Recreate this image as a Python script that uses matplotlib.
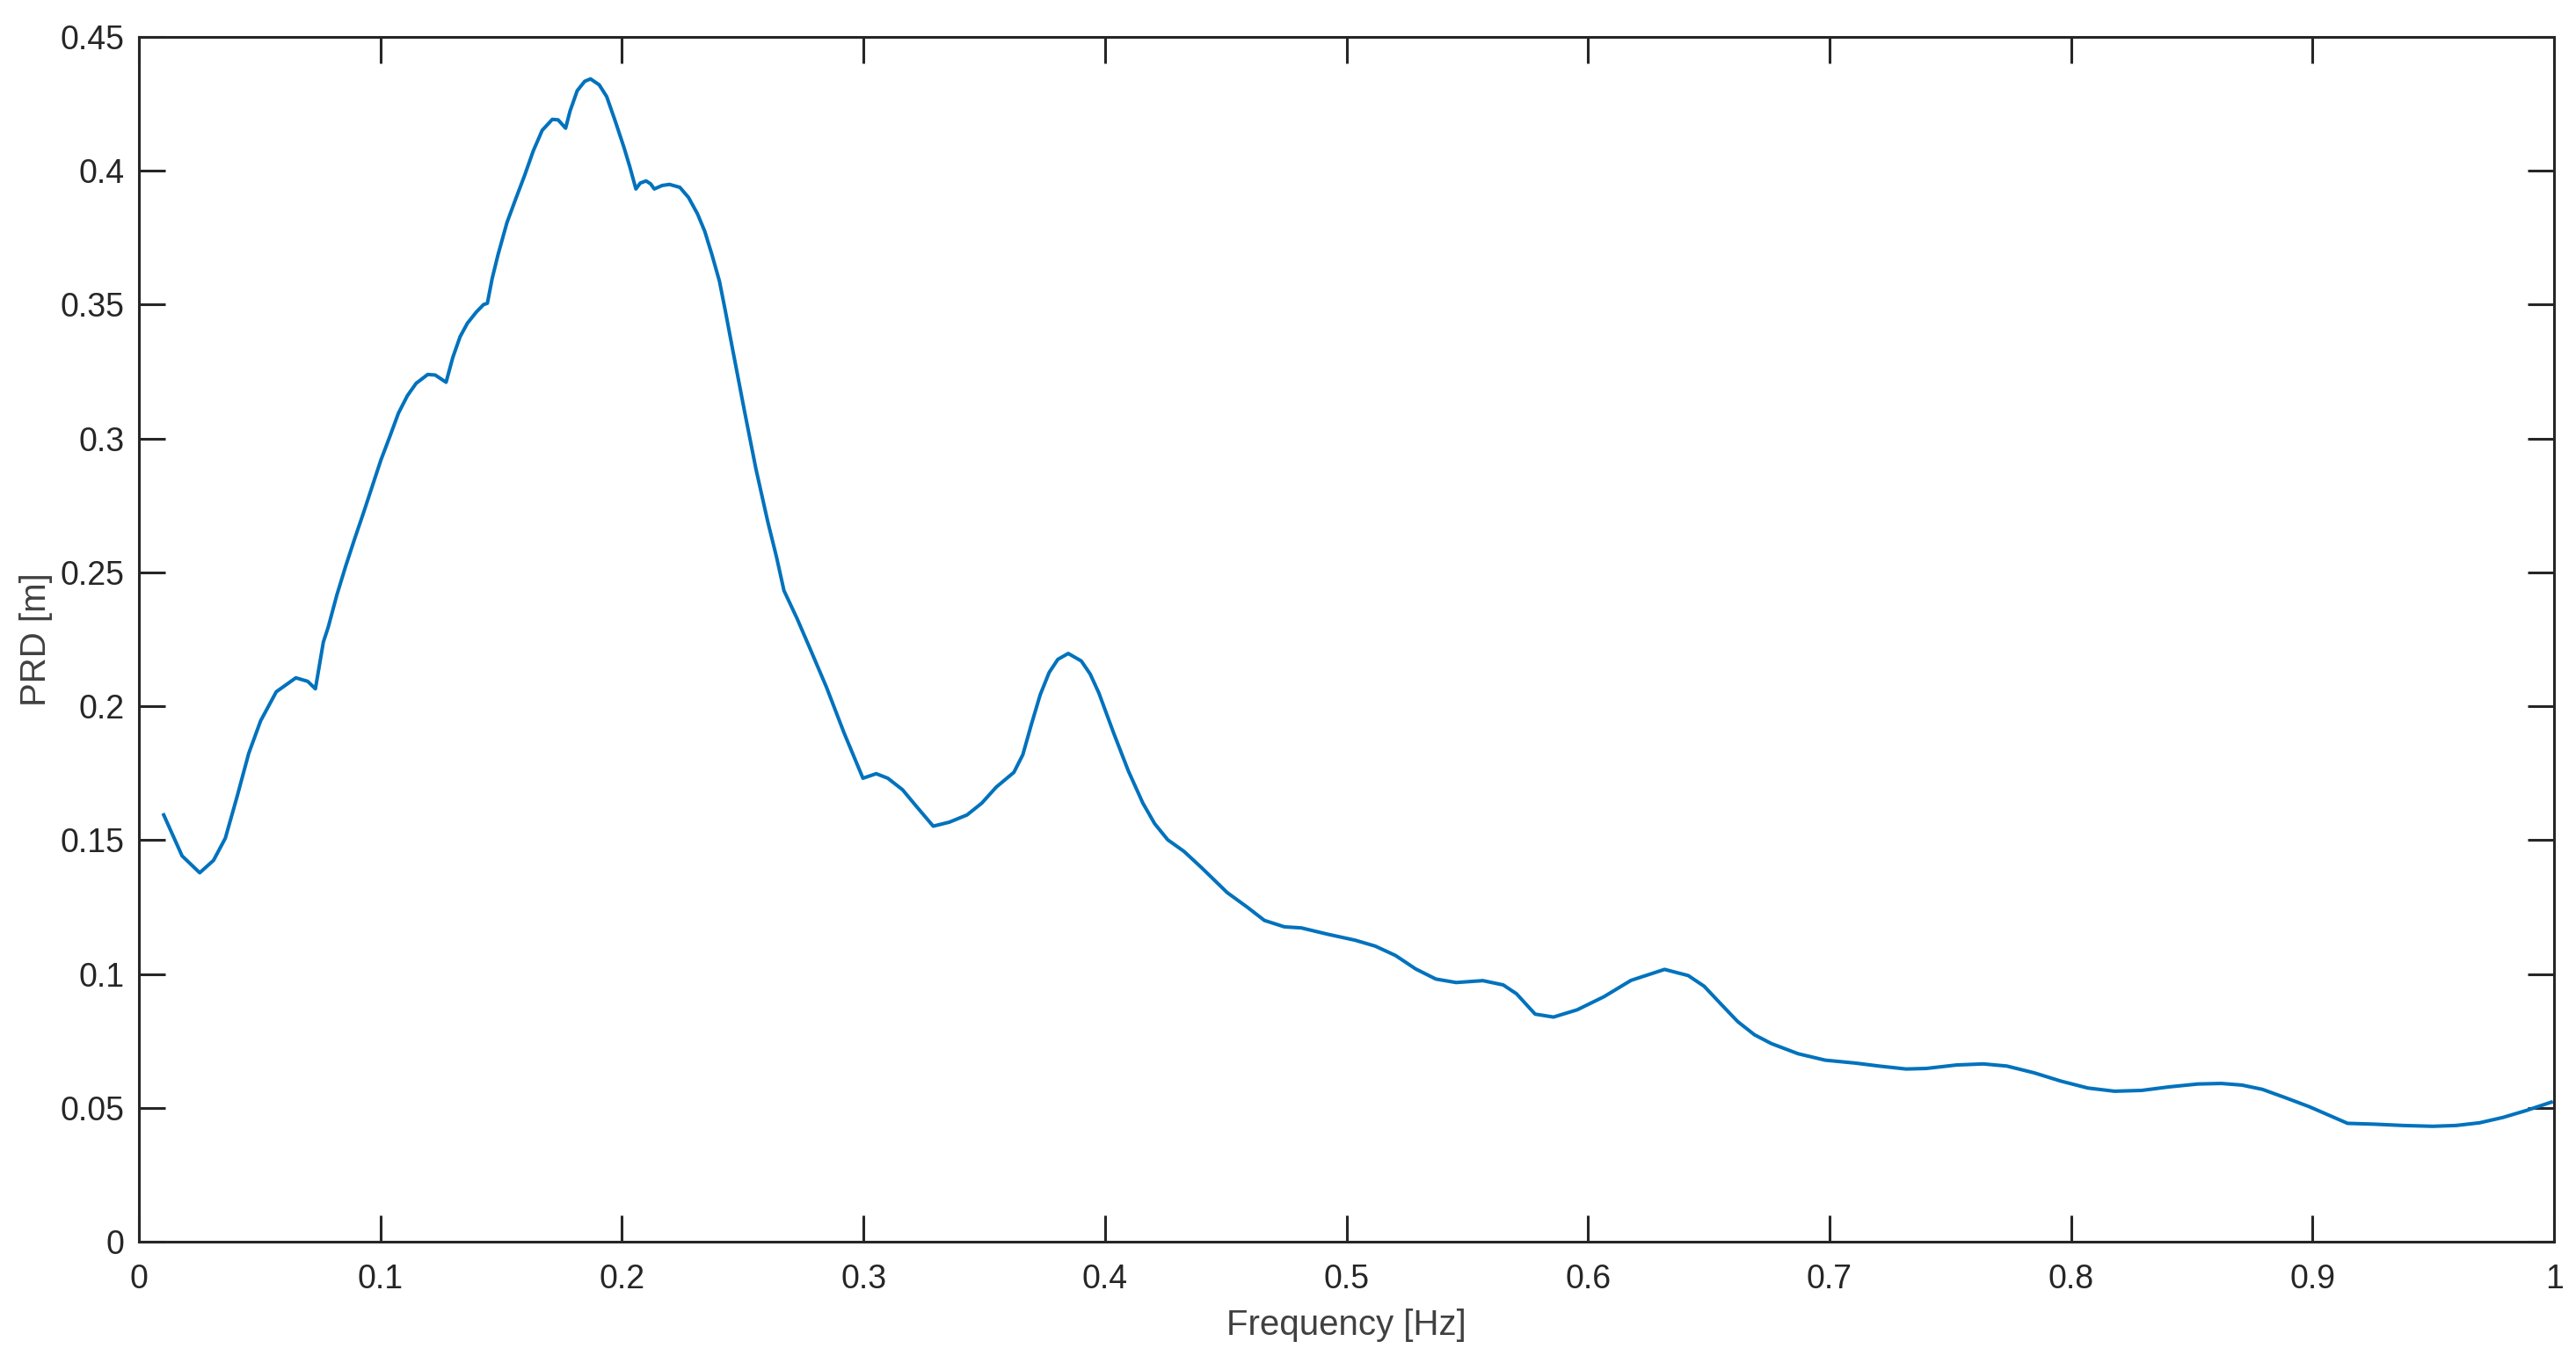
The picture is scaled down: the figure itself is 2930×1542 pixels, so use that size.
import matplotlib
matplotlib.use('Agg')
import matplotlib.pyplot as plt

# PRD spectrum
freq = [0.0103, 0.0179, 0.0252, 0.0309, 0.0358, 0.0406, 0.0455, 0.0504, 0.0569, 0.0650,
        0.0699, 0.0731, 0.0764, 0.0784, 0.0820, 0.0857, 0.0893, 0.0930, 0.0966, 0.1002,
        0.1039, 0.1075, 0.1112, 0.1148, 0.1196, 0.1227, 0.1272, 0.1300, 0.1330, 0.1360,
        0.1397, 0.1427, 0.1443, 0.1463, 0.1487, 0.1524, 0.1560, 0.1597, 0.1633, 0.1670,
        0.1712, 0.1736, 0.1767, 0.1785, 0.1815, 0.1846, 0.1870, 0.1906, 0.1937, 0.1973,
        0.2009, 0.2033, 0.2058, 0.2076, 0.2100, 0.2119, 0.2134, 0.2167, 0.2197, 0.2240,
        0.2276, 0.2313, 0.2343, 0.2373, 0.2404, 0.2428, 0.2458, 0.2507, 0.2555, 0.2604,
        0.2640, 0.2671, 0.2725, 0.2780, 0.2847, 0.2920, 0.2998, 0.3053, 0.3101, 0.3162,
        0.3223, 0.3289, 0.3356, 0.3429, 0.3490, 0.3550, 0.3623, 0.3660, 0.3696, 0.3732,
        0.3769, 0.3805, 0.3848, 0.3902, 0.3939, 0.3975, 0.4036, 0.4097, 0.4157, 0.4206,
        0.4260, 0.4327, 0.4400, 0.4506, 0.4590, 0.4660, 0.4743, 0.4813, 0.4924, 0.5036,
        0.5119, 0.5203, 0.5286, 0.5370, 0.5454, 0.5565, 0.5649, 0.5704, 0.5781, 0.5857,
        0.5955, 0.6066, 0.6178, 0.6317, 0.6415, 0.6481, 0.6550, 0.6620, 0.6689, 0.6759,
        0.6870, 0.6982, 0.7108, 0.7205, 0.7317, 0.7400, 0.7526, 0.7637, 0.7734, 0.7846,
        0.7957, 0.8069, 0.8180, 0.8292, 0.8404, 0.8525, 0.8622, 0.8707, 0.8792, 0.8890,
        0.8987, 0.9084, 0.9145, 0.9254, 0.9375, 0.9497, 0.9594, 0.9691, 0.9788, 0.9885,
        0.9988]
prd = [0.1594, 0.1441, 0.1378, 0.1424, 0.1507, 0.1660, 0.1824, 0.1945, 0.2054, 0.2106,
       0.2093, 0.2065, 0.2240, 0.2295, 0.2416, 0.2525, 0.2624, 0.2722, 0.2821, 0.2919,
       0.3007, 0.3095, 0.3160, 0.3206, 0.3239, 0.3237, 0.3210, 0.3303, 0.3380, 0.3430,
       0.3472, 0.3500, 0.3505, 0.3598, 0.3686, 0.3806, 0.3894, 0.3982, 0.4074, 0.4151,
       0.4192, 0.4190, 0.4159, 0.4222, 0.4299, 0.4334, 0.4343, 0.4321, 0.4277, 0.4184,
       0.4086, 0.4014, 0.3932, 0.3954, 0.3962, 0.3951, 0.3932, 0.3945, 0.3949, 0.3938,
       0.3900, 0.3839, 0.3774, 0.3686, 0.3587, 0.3478, 0.3335, 0.3105, 0.2886, 0.2689,
       0.2558, 0.2432, 0.2328, 0.2213, 0.2071, 0.1900, 0.1731, 0.1748, 0.1731, 0.1688,
       0.1622, 0.1552, 0.1567, 0.1594, 0.1638, 0.1698, 0.1753, 0.1819, 0.1934, 0.2043,
       0.2126, 0.2175, 0.2197, 0.2169, 0.2120, 0.2049, 0.1900, 0.1758, 0.1638, 0.1561,
       0.1501, 0.1458, 0.1397, 0.1304, 0.1249, 0.1200, 0.1176, 0.1172, 0.1148, 0.1126,
       0.1104, 0.1069, 0.1019, 0.0981, 0.0968, 0.0975, 0.0959, 0.0926, 0.0850, 0.0839,
       0.0866, 0.0915, 0.0976, 0.1017, 0.0994, 0.0954, 0.0888, 0.0822, 0.0773, 0.0740,
       0.0702, 0.0678, 0.0667, 0.0656, 0.0645, 0.0647, 0.0660, 0.0664, 0.0656, 0.0631,
       0.0600, 0.0574, 0.0562, 0.0565, 0.0578, 0.0589, 0.0591, 0.0585, 0.0569, 0.0537,
       0.0504, 0.0466, 0.0442, 0.0439, 0.0434, 0.0431, 0.0434, 0.0444, 0.0464, 0.0490,
       0.0521]

xticks = [0, 0.1, 0.2, 0.3, 0.4, 0.5, 0.6, 0.7, 0.8, 0.9, 1]
xticklabels = ['0', '0.1', '0.2', '0.3', '0.4', '0.5', '0.6', '0.7', '0.8', '0.9', '1']
yticks = [0, 0.05, 0.1, 0.15, 0.2, 0.25, 0.3, 0.35, 0.4, 0.45]
yticklabels = ['0', '0.05', '0.1', '0.15', '0.2', '0.25', '0.3', '0.35', '0.4', '0.45']

plt.rcParams['font.family'] = ['Liberation Sans', 'DejaVu Sans']

fig = plt.figure(figsize=(14.65, 7.71), dpi=200)
ax = fig.add_axes([0.0539, 0.0843, 0.9376, 0.8885])

ax.plot(freq, prd, color='#0072BD', linewidth=1.45)

ax.set_xlim(0, 1)
ax.set_ylim(0, 0.45)
ax.set_xticks(xticks)
ax.set_xticklabels(xticklabels)
ax.set_yticks(yticks)
ax.set_yticklabels(yticklabels)

ax.tick_params(direction='in', length=10.8, width=1.1, colors='#262626',
               labelsize=13.5, top=True, right=True)
ax.tick_params(axis='x', pad=9)
ax.tick_params(axis='y', pad=6)
for s in ax.spines.values():
    s.set_linewidth(1.1)
    s.set_color('#262626')

ax.set_xlabel('Frequency [Hz]', fontsize=14.5, color='#404040', labelpad=5.5)
ax.set_ylabel('PRD [m]', fontsize=14.5, color='#404040', labelpad=3)

fig.savefig('out.png', dpi=200, facecolor='white')
